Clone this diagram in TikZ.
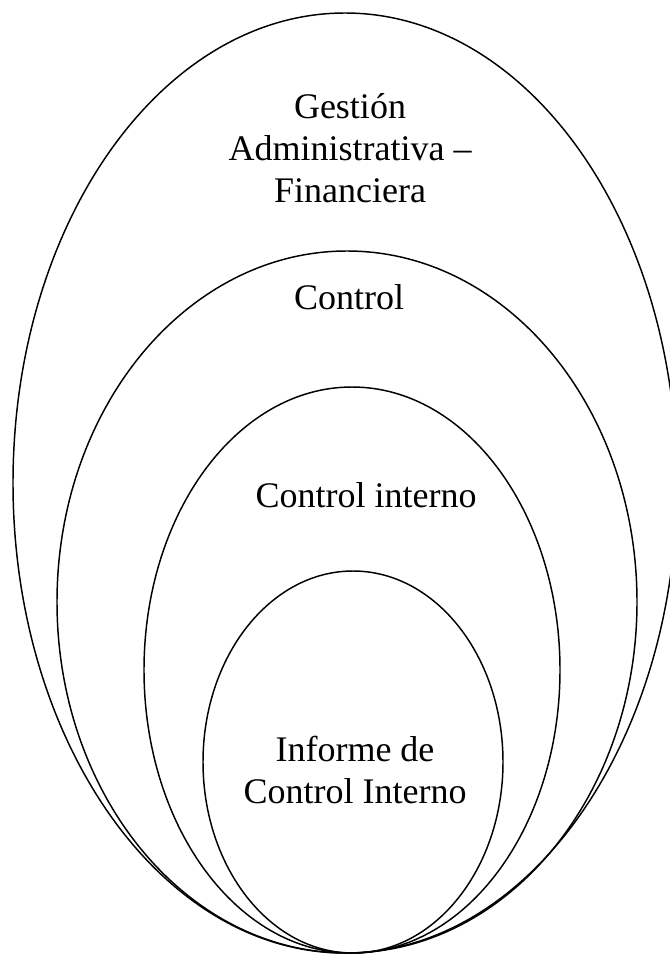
\documentclass[tikz,border=0pt]{standalone}
\usepackage{fontspec}
\setmainfont{Liberation Serif}
\begin{document}
\begin{tikzpicture}[x=0.75pt,y=-0.75pt,
  ring/.style={draw=black,line width=1.1pt},
  lbl/.style={font=\fontsize{27}{31.5}\selectfont,align=center,inner sep=0pt,anchor=base}]
\useasboundingbox (0,0) rectangle (670,956);
% nested ellipses, all touching at the bottom
\draw[ring] (345,483) ellipse [x radius=332, y radius=470];
\draw[ring] (347,602) ellipse [x radius=290, y radius=351];
\draw[ring] (352,670) ellipse [x radius=208, y radius=283];
\draw[ring] (353,762) ellipse [x radius=150, y radius=191];
% labels (anchor sits on the last line's baseline)
\node[lbl] (gaf) at (350,202) {Gestión\\Administrativa –\\Financiera};
\node[lbl] (ctl) at (349,309) {Control};
\node[lbl] (ci) at (366,507) {Control interno};
\node[lbl] (ici) at (355,803) {Informe de\\Control Interno};
\end{tikzpicture}
\end{document}
